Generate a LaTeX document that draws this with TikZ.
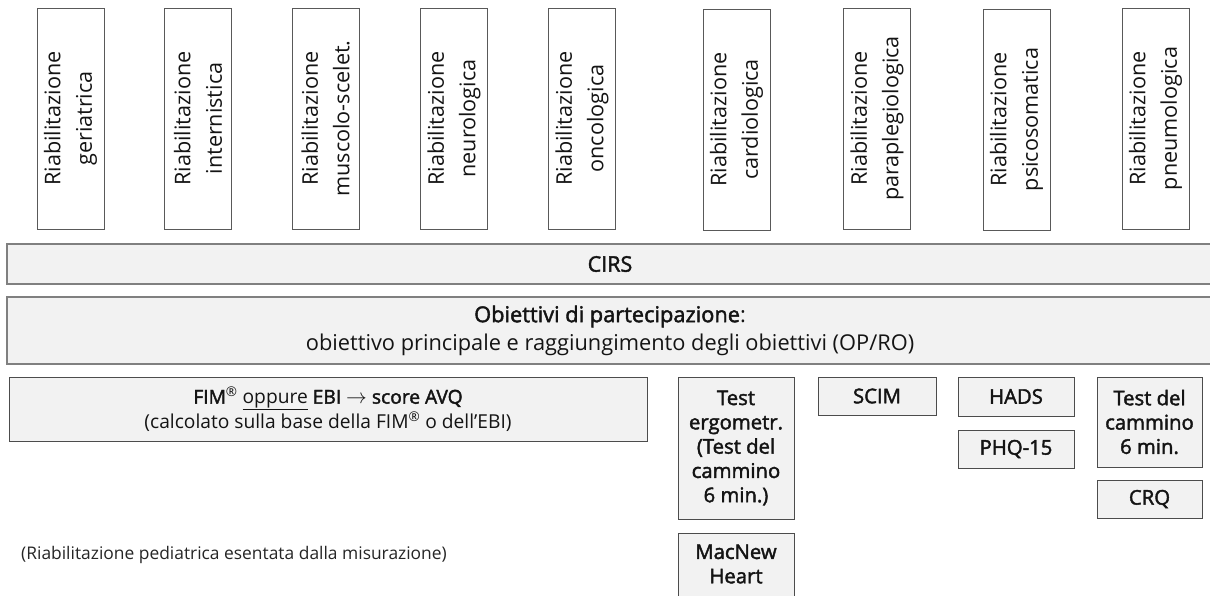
\documentclass[tikz,border=0pt]{standalone}
\usepackage{fontspec}
\setmainfont{Open Sans}
\newfontfamily\sbf{Open Sans}[FakeBold=2]
\tikzset{
  rbox/.style={draw=black!65, line width=1pt, fill=white, rotate=90,
    minimum width=221pt, minimum height=67pt, inner sep=0pt, align=center,
    font=\fontsize{21.6}{31.5}\selectfont, text=black!92},
  bar/.style={draw=black!50, line width=1.6pt, fill=black!5, minimum width=1206pt,
    inner sep=0pt, align=center, text=black!92},
  gbox/.style={draw=black!70, line width=0.9pt, fill=black!5, inner sep=0pt,
    align=center, font=\sbf\fontsize{20.3}{24.3}\selectfont, text=black!92},
}
\begin{document}
\begin{tikzpicture}[x=1pt,y=-1pt]
\useasboundingbox (0,0) rectangle (1210,595);
\clip (0,0) rectangle (1210,595);
\fill[white] (0,0) rectangle (1210,595);

\node[rbox] (r1) at (70.5,118.5) {Riabilitazione\\geriatrica};
\node[rbox] (r2) at (198,118.5) {Riabilitazione\\internistica};
\node[rbox] (r3) at (325.5,118.5) {Riabilitazione\\muscolo-scelet.};
\node[rbox] (r4) at (454,118.5) {Riabilitazione\\neurologica};
\node[rbox] (r5) at (582,118.5) {Riabilitazione\\oncologica};
\node[rbox] (r6) at (736.5,119.5) {Riabilitazione\\cardiologica};
\node[rbox] (r7) at (877,118.5) {Riabilitazione\\paraplegiologica};
\node[rbox] (r8) at (1016.5,119.5) {Riabilitazione\\psicosomatica};
\node[rbox] (r9) at (1155.5,118.5) {Riabilitazione\\pneumologica};

\node[bar, minimum height=40pt, font=\sbf\fontsize{21.5}{24}\selectfont] (cirs) at (610,264) {CIRS};
\node[bar, minimum height=67pt, font=\fontsize{21.8}{28}\selectfont] (obj) at (610,330.5)
  {{\sbf Obiettivi di partecipazione}:\\obiettivo principale e raggiungimento degli obiettivi (OP/RO)};

\node[gbox, minimum width=638pt, minimum height=64pt, font=\fontsize{19.2}{23.5}\selectfont] (fim) at (328,409)
  {{\sbf FIM}\textsuperscript{®} \underline{oppure} {\sbf EBI} $\rightarrow$ {\sbf score AVQ}\\(calcolato sulla base della FIM\textsuperscript{®} o dell’EBI)};

\node[gbox, minimum width=116pt, minimum height=142pt] (te) at (736,448)
  {Test\\ergometr.\\(Test del\\cammino\\6 min.)};
\node[gbox, minimum width=116pt, anchor=north, inner ysep=11pt, text depth=50pt] (mac) at (736,533)
  {MacNew\\Heart};
\node[gbox, minimum width=118pt, minimum height=38pt] (scim) at (877,396) {SCIM};
\node[gbox, minimum width=116pt, minimum height=39pt] (hads) at (1016,396.5) {HADS};
\node[gbox, minimum width=116pt, minimum height=38pt] (phq) at (1016,449) {PHQ-15};
\node[gbox, minimum width=105pt, minimum height=90pt] (tdc) at (1149.5,422) {Test del\\cammino\\6 min.};
\node[gbox, minimum width=105pt, minimum height=38pt] (crq) at (1149.5,499) {CRQ};

\node[anchor=west, inner sep=0pt, font=\fontsize{17.4}{20}\selectfont, text=black!85] (ped) at (21,555)
  {(Riabilitazione pediatrica esentata dalla misurazione)};
\end{tikzpicture}
\end{document}
